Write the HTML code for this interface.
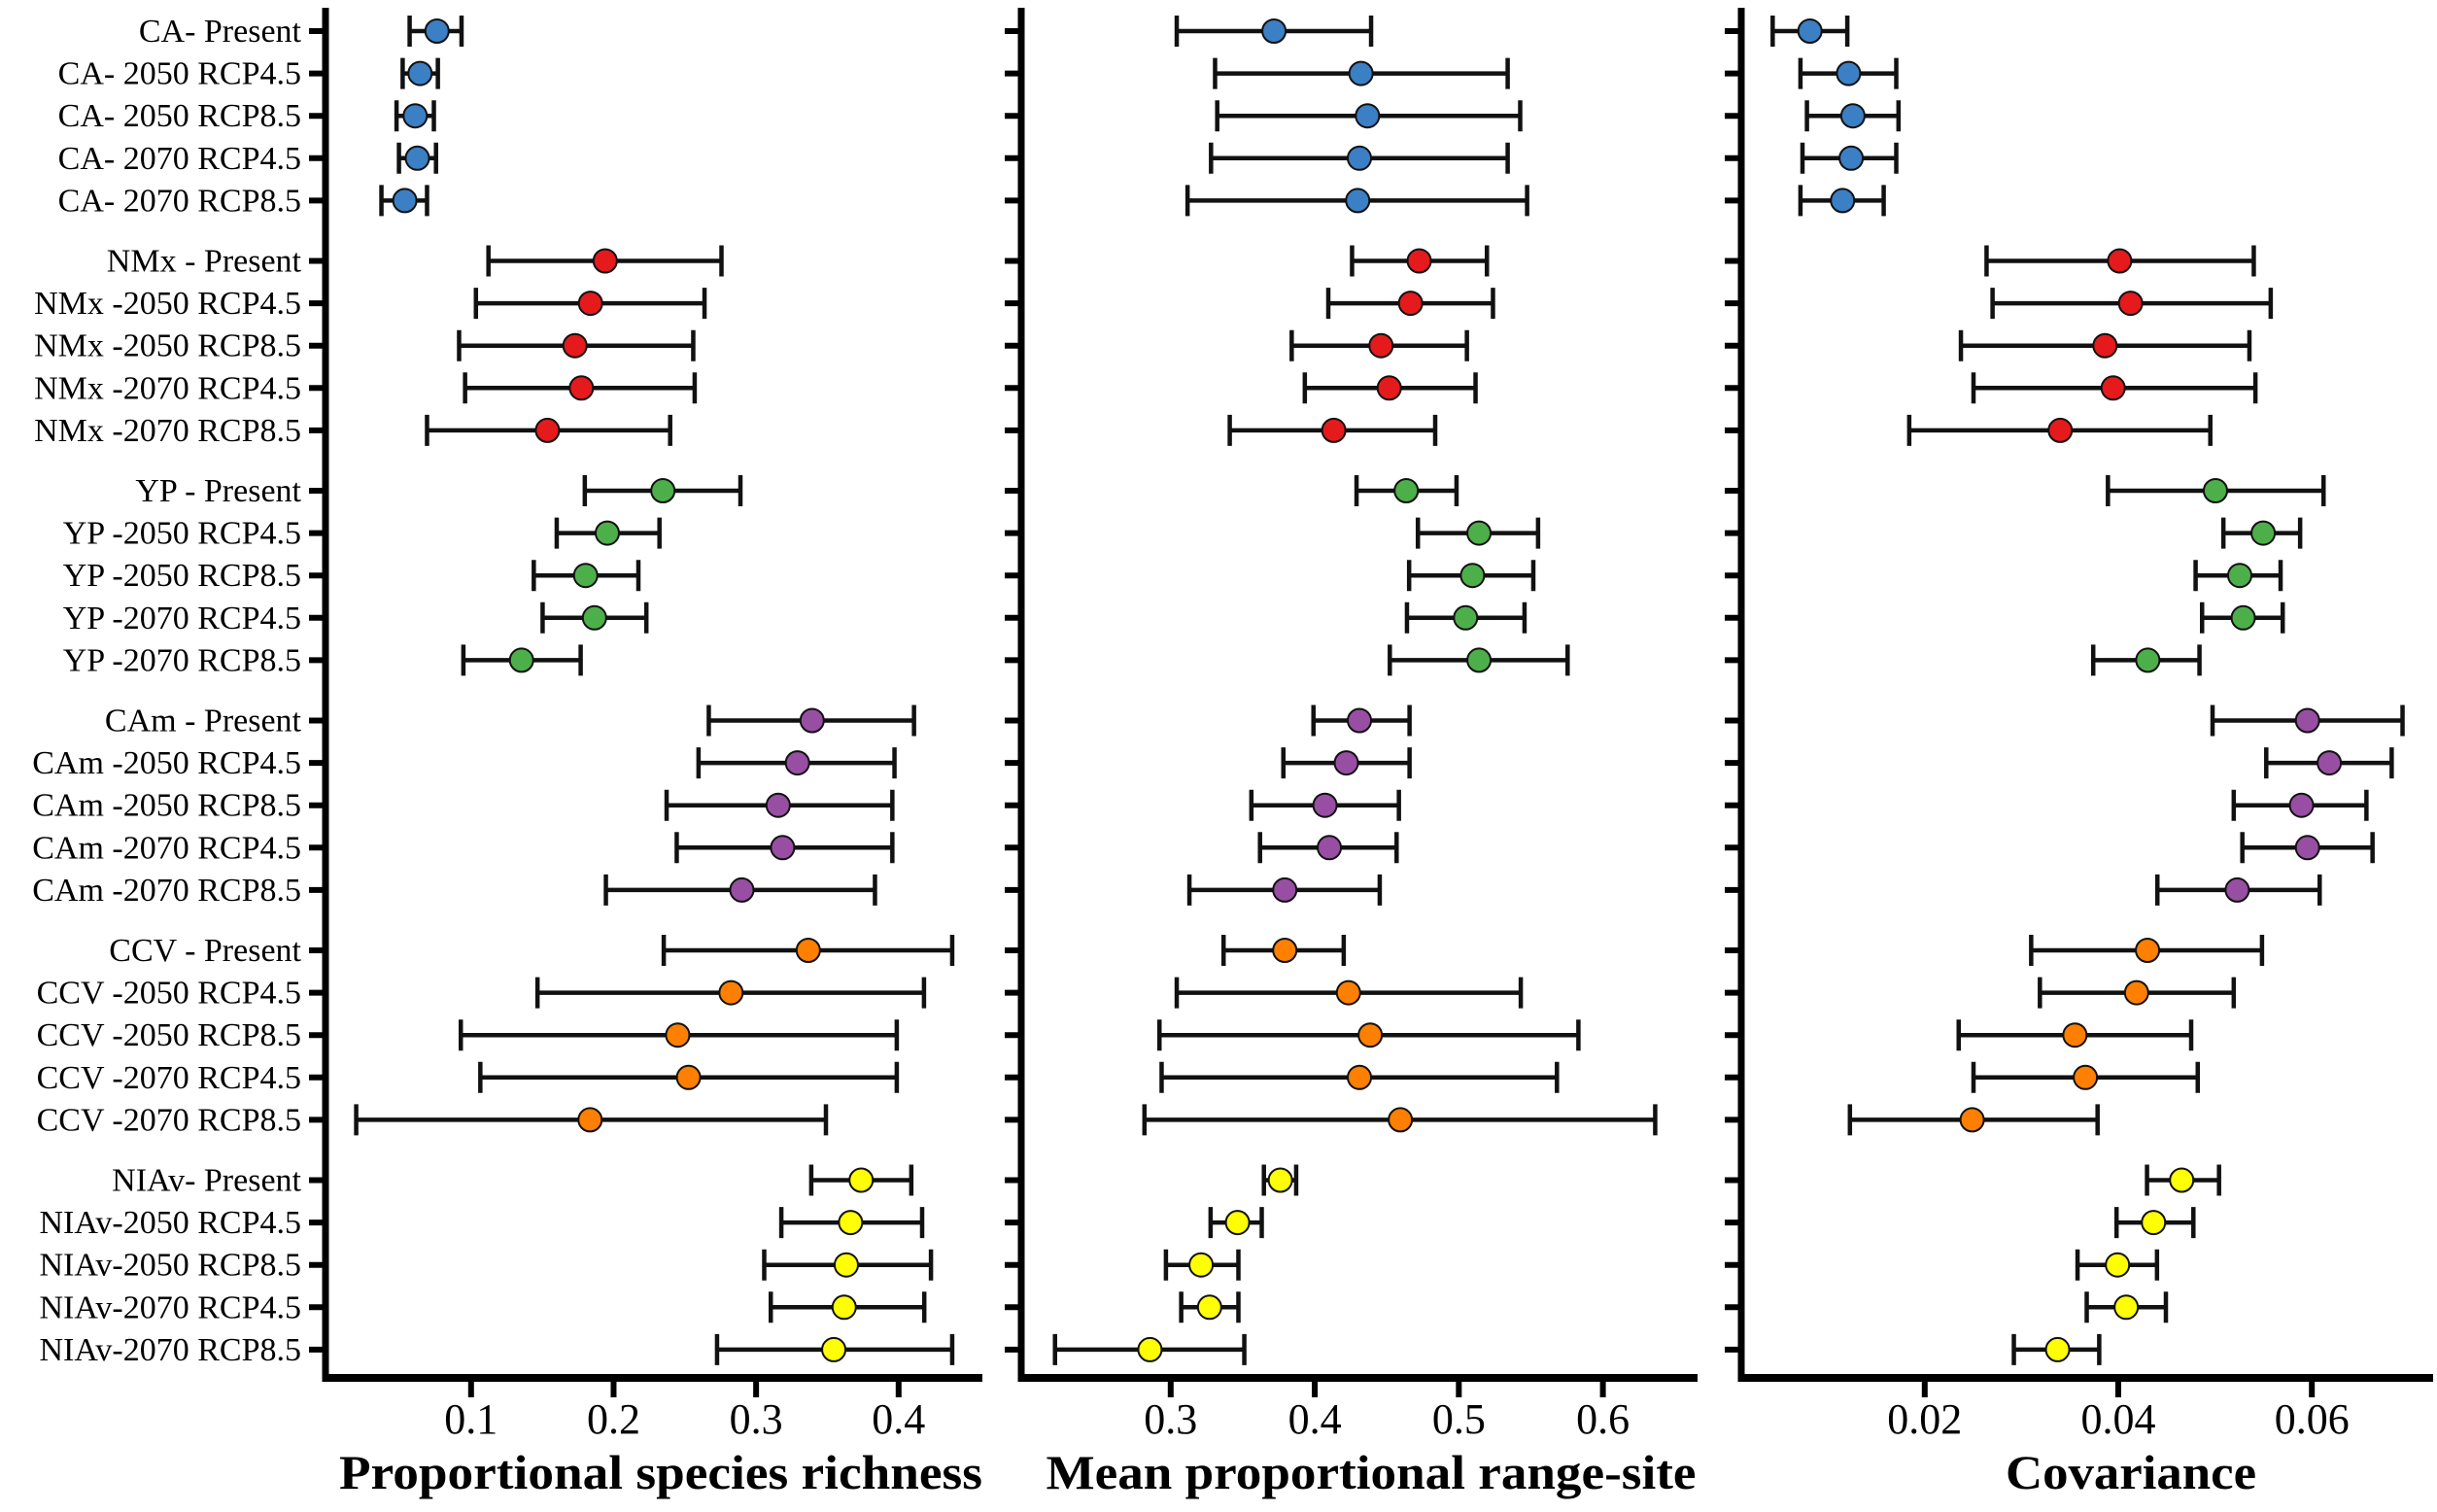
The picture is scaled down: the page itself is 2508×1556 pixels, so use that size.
<!DOCTYPE html>
<html><head><meta charset="utf-8"><style>
html,body{margin:0;padding:0;background:#fff}
svg{display:block}
text{font-family:"Liberation Serif",serif;fill:#000}
</style></head><body>
<svg id="chart" width="2508" height="1556" viewBox="0 0 2508 1556" xmlns="http://www.w3.org/2000/svg"></svg>
<script>
const rowLabels = [
"CA- Present","CA- 2050 RCP4.5","CA- 2050 RCP8.5","CA- 2070 RCP4.5","CA- 2070 RCP8.5",
"NMx - Present","NMx -2050 RCP4.5","NMx -2050 RCP8.5","NMx -2070 RCP4.5","NMx -2070 RCP8.5",
"YP - Present","YP -2050 RCP4.5","YP -2050 RCP8.5","YP -2070 RCP4.5","YP -2070 RCP8.5",
"CAm - Present","CAm -2050 RCP4.5","CAm -2050 RCP8.5","CAm -2070 RCP4.5","CAm -2070 RCP8.5",
"CCV - Present","CCV -2050 RCP4.5","CCV -2050 RCP8.5","CCV -2070 RCP4.5","CCV -2070 RCP8.5",
"NIAv- Present","NIAv-2050 RCP4.5","NIAv-2050 RCP8.5","NIAv-2070 RCP4.5","NIAv-2070 RCP8.5"];
const groupColors = ["#3b7fc4","#e41a1c","#4daf4a","#984ea3","#ff7f00","#ffff00"];

const richMean = [0.0761,0.0642,0.0608,0.0623,0.0535, 0.1941,0.1838,0.1729,0.1774,0.1536, 0.2346,0.1956,0.1804,0.1866,0.1354, 0.3393,0.329,0.3155,0.3186,0.2900, 0.3366,0.2824,0.2450,0.2526,0.1835, 0.3737,0.3663,0.3633,0.3618,0.3545];
const richLo = [0.0569,0.0520,0.0477,0.0494,0.0371, 0.1122,0.1034,0.0916,0.0958,0.0691, 0.1798,0.1601,0.1440,0.1502,0.0946, 0.2668,0.2596,0.2372,0.2443,0.1946, 0.2352,0.1466,0.0928,0.1065,0.0194, 0.3387,0.3177,0.3057,0.3103,0.2726];
const richHi = [0.0933,0.0767,0.0739,0.0754,0.0691, 0.2757,0.2638,0.2559,0.2569,0.2397, 0.2890,0.2322,0.2174,0.2230,0.1769, 0.4108,0.3971,0.3956,0.3956,0.3834, 0.4376,0.4178,0.3987,0.3987,0.3490, 0.4089,0.4165,0.4227,0.4180,0.4376];

const rangeMean = [0.3717,0.4321,0.4366,0.4310,0.4298, 0.4725,0.4665,0.4460,0.4517,0.4132, 0.4635,0.5140,0.5095,0.5047,0.5140, 0.4310,0.4219,0.4071,0.4101,0.3792, 0.3792,0.4234,0.4385,0.4310,0.4594, 0.3761,0.3464,0.3211,0.3270,0.2856];
const rangeLo = [0.3042,0.3308,0.3323,0.3280,0.3117, 0.4259,0.4094,0.3840,0.3931,0.3410, 0.4290,0.4716,0.4655,0.4640,0.4521, 0.3991,0.3782,0.3560,0.3620,0.3130, 0.3367,0.3042,0.2922,0.2937,0.2818, 0.3647,0.3277,0.2967,0.3073,0.2197];
const rangeHi = [0.4391,0.5339,0.5426,0.5339,0.5474, 0.5195,0.5237,0.5056,0.5116,0.4836, 0.4984,0.5550,0.5517,0.5456,0.5755, 0.4658,0.4658,0.4584,0.4568,0.4451, 0.4201,0.5430,0.5830,0.5681,0.6363, 0.3871,0.3632,0.3470,0.3470,0.3511];

const covMean = [0.00814,0.01213,0.01258,0.0124,0.01151, 0.04014,0.04127,0.03863,0.03947,0.034, 0.05004,0.05497,0.05255,0.05291,0.04305, 0.05955,0.0618,0.05893,0.05955,0.05229, 0.04302,0.04189,0.03552,0.0366,0.0249, 0.04655,0.04364,0.03992,0.04082,0.03373];
const covLo = [0.00429,0.00716,0.00783,0.00737,0.00716, 0.02639,0.02701,0.02374,0.02504,0.0184, 0.03893,0.05086,0.04799,0.04866,0.03741, 0.04974,0.05529,0.05193,0.05282,0.04404, 0.031,0.0319,0.02351,0.02504,0.01227, 0.04297,0.03982,0.03579,0.03674,0.02921];
const covHi = [0.012,0.01706,0.01729,0.01706,0.01576, 0.054,0.05575,0.05355,0.05417,0.04951, 0.06121,0.05879,0.05677,0.05699,0.04839, 0.06937,0.06825,0.06564,0.06627,0.06081, 0.05485,0.05193,0.04753,0.04821,0.03786, 0.05041,0.04776,0.044,0.04492,0.03803];

const richTicks = [0.1,0.2,0.3,0.4];
const richTickLabels = ["0.1","0.2","0.3","0.4"];
const rangeTicks = [0.3,0.4,0.5,0.6];
const rangeTickLabels = ["0.3","0.4","0.5","0.6"];
const covTicks = [0.02,0.04,0.06];
const covTickLabels = ["0.02","0.04","0.06"];

const NS = "http://www.w3.org/2000/svg";
const svg = document.getElementById("chart");
function mk(tag, attrs, parent){const e=document.createElementNS(NS,tag);for(const k in attrs)e.setAttribute(k,attrs[k]);(parent||svg).appendChild(e);return e;}
function rowY(i){const g=Math.floor(i/5), j=i%5; return 32 + g*236.5 + j*43.6;}
const AXY = 1418;

const panels = [
 {key:"richness", axL:335, axR:1011, v0:0.1, p0:484.8, v1:0.4, p1:924.8, mean:richMean, lo:richLo, hi:richHi, ticks:richTicks, tl:richTickLabels, title:"Proportional species richness", tc:680, tw:662, labels:true},
 {key:"range-site", axL:1051, axR:1747, v0:0.3, p0:1204.8, v1:0.6, p1:1649.6, mean:rangeMean, lo:rangeLo, hi:rangeHi, ticks:rangeTicks, tl:rangeTickLabels, title:"Mean proportional range-site", tc:1411, tw:669, labels:false},
 {key:"covariance", axL:1792, axR:2504, v0:0.02, p0:1980.8, v1:0.06, p1:2379.2, mean:covMean, lo:covLo, hi:covHi, ticks:covTicks, tl:covTickLabels, title:"Covariance", tc:2193, tw:258, labels:false}
];

panels.forEach(p=>{
  const x = v => p.p0 + (v - p.v0)*(p.p1 - p.p0)/(p.v1 - p.v0);
  const g = mk("g",{});
  
  
  const ya = mk("line",{x1:p.axL,y1:8,x2:p.axL,y2:AXY+4,stroke:"#000","stroke-width":7},g);
  
  
  const xa = mk("line",{x1:p.axL-3,y1:AXY,x2:p.axR,y2:AXY,stroke:"#000","stroke-width":8},g);
  
  
  rowLabels.forEach((lab,i)=>{
    const y=rowY(i);
    const t = mk("line",{x1:p.axL-17,y1:y,x2:p.axL,y2:y,stroke:"#000","stroke-width":6},g);
    
    
    if(p.labels){
      const tx = mk("text",{x:310,y:y+11,"text-anchor":"end","font-size":34},g);
      
      
      tx.textContent = lab;
    }
  });
  p.ticks.forEach((tv,k)=>{
    const px=x(tv);
    const t = mk("line",{x1:px,y1:AXY,x2:px,y2:AXY+20,stroke:"#000","stroke-width":6},g);
    
    
    const tx = mk("text",{x:px,y:1475,"text-anchor":"middle","font-size":44},g);
    
    
    tx.textContent = p.tl[k];
  });
  const tt = mk("text",{x:p.tc,y:1532,"text-anchor":"middle","font-size":50,"font-weight":"bold",textLength:p.tw,lengthAdjust:"spacingAndGlyphs"},g);
  
  
  tt.textContent = p.title;
  p.mean.forEach((m,i)=>{
    const y=rowY(i), xl=x(p.lo[i]), xh=x(p.hi[i]);
    const e = mk("path",{d:`M${xl},${y}H${xh}M${xl},${y-16}V${y+16}M${xh},${y-16}V${y+16}`,stroke:"#111","stroke-width":4.5,fill:"none"},g);
    
    
    const c = mk("circle",{cx:x(m),cy:y,r:12,fill:groupColors[Math.floor(i/5)],stroke:"#111","stroke-width":2},g);
    
    
  });
});
</script>
</body></html>
